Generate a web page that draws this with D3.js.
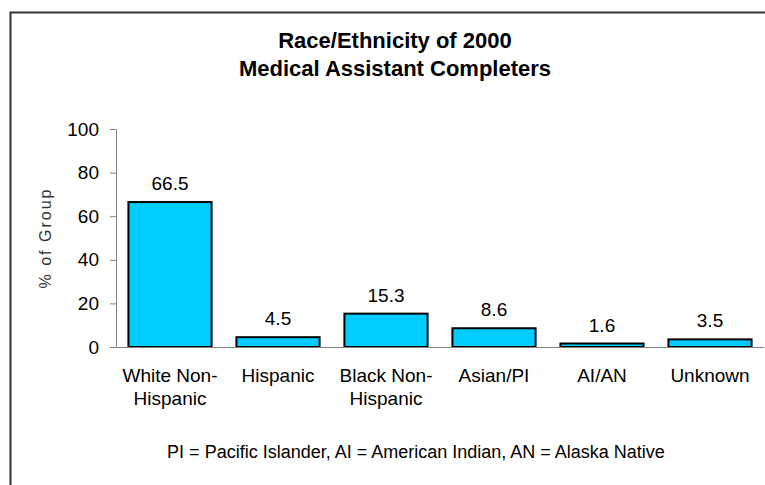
<!DOCTYPE html>
<html>
<head>
<meta charset="utf-8">
<script src="https://cdn.jsdelivr.net/npm/d3@7"></script>
<style>
  body { margin: 0; background: #fff; }
  svg { display: block; font-family: "Liberation Sans", Arial, sans-serif; }
</style>
</head>
<body>
<svg width="765" height="485"></svg>
<script>
const categories = [["White Non-", "Hispanic"], ["Hispanic"], ["Black Non-", "Hispanic"], ["Asian/PI"], ["AI/AN"], ["Unknown"]];
const values = [66.5, 4.5, 15.3, 8.6, 1.6, 3.5];
const yTicks = [0, 20, 40, 60, 80, 100];
const titleLines = ["Race/Ethnicity of 2000", "Medical Assistant Completers"];
const footnote = "PI = Pacific Islander, AI = American Indian, AN = Alaska Native";

const svg = d3.select("svg");
const width = +svg.attr("width");
const height = +svg.attr("height");

svg.append("rect")
  .attr("width", width)
  .attr("height", height)
  .attr("fill", "white");

// outer frame (only top and left edges are visible)
svg.append("path")
  .attr("d", `M10.5,${height} V12.5 H${width}`)
  .attr("fill", "none")
  .attr("stroke", "#333")
  .attr("stroke-width", 2);

// Title
svg.append("text")
  .attr("x", 395)
  .attr("text-anchor", "middle")
  .attr("font-size", "22px")
  .attr("font-weight", "bold")
  .attr("fill", "#000")
  .selectAll("tspan")
  .data(titleLines)
  .enter()
  .append("tspan")
  .attr("x", 395)
  .attr("y", (d, i) => 48 + i * 28)
  .text(d => d);

const x = d3.scaleBand()
  .domain(d3.range(categories.length))
  .range([116, 764])
  .paddingInner(0.23)
  .paddingOuter(0.115);

const y = d3.scaleLinear().domain([0, 100]).range([347, 129]);

// Y axis
const yAxis = svg.append("g")
  .attr("transform", "translate(116,0)")
  .call(d3.axisLeft(y).tickValues(yTicks).tickSize(6).tickPadding(11));
yAxis.select(".domain").attr("stroke", "#808080");
yAxis.selectAll(".tick line").attr("stroke", "#808080");
yAxis.selectAll(".tick text")
  .attr("font-size", "19px")
  .attr("font-family", "Liberation Sans, Arial, sans-serif")
  .attr("fill", "#000");

// Bars
svg.selectAll(".bar")
  .data(values)
  .enter()
  .append("rect")
  .attr("class", "bar")
  .attr("x", (d, i) => x(i))
  .attr("y", d => y(d))
  .attr("width", x.bandwidth())
  .attr("height", d => y(0) - y(d))
  .attr("fill", "#00CCFF")
  .attr("stroke", "#000")
  .attr("stroke-width", 2);

// X axis baseline
svg.append("line")
  .attr("x1", 110)
  .attr("x2", 764)
  .attr("y1", y(0) + 0.5)
  .attr("y2", y(0) + 0.5)
  .attr("stroke", "#808080");

// Value labels
svg.selectAll(".value")
  .data(values)
  .enter()
  .append("text")
  .attr("class", "value")
  .attr("x", (d, i) => x(i) + x.bandwidth() / 2)
  .attr("y", d => y(d) - 12)
  .attr("text-anchor", "middle")
  .attr("font-size", "19px")
  .text(d => d.toFixed(1));

// Category labels
svg.selectAll(".cat")
  .data(categories)
  .enter()
  .append("text")
  .attr("class", "cat")
  .attr("text-anchor", "middle")
  .attr("font-size", "19px")
  .each(function(lines, i) {
    d3.select(this).selectAll("tspan")
      .data(lines)
      .enter()
      .append("tspan")
      .attr("x", x(i) + x.bandwidth() / 2)
      .attr("y", (d, j) => 382 + j * 23)
      .text(d => d);
  });

// Y axis title
svg.append("text")
  .attr("transform", `translate(51,${(y(0) + y(100)) / 2}) rotate(-90)`)
  .attr("text-anchor", "middle")
  .attr("font-size", "16px")
  .attr("letter-spacing", "2px")
  .attr("fill", "#333")
  .text("% of Group");

// Footnote
svg.append("text")
  .attr("x", 416)
  .attr("y", 458)
  .attr("text-anchor", "middle")
  .attr("font-size", "18px")
  .text(footnote);
</script>
</body>
</html>
